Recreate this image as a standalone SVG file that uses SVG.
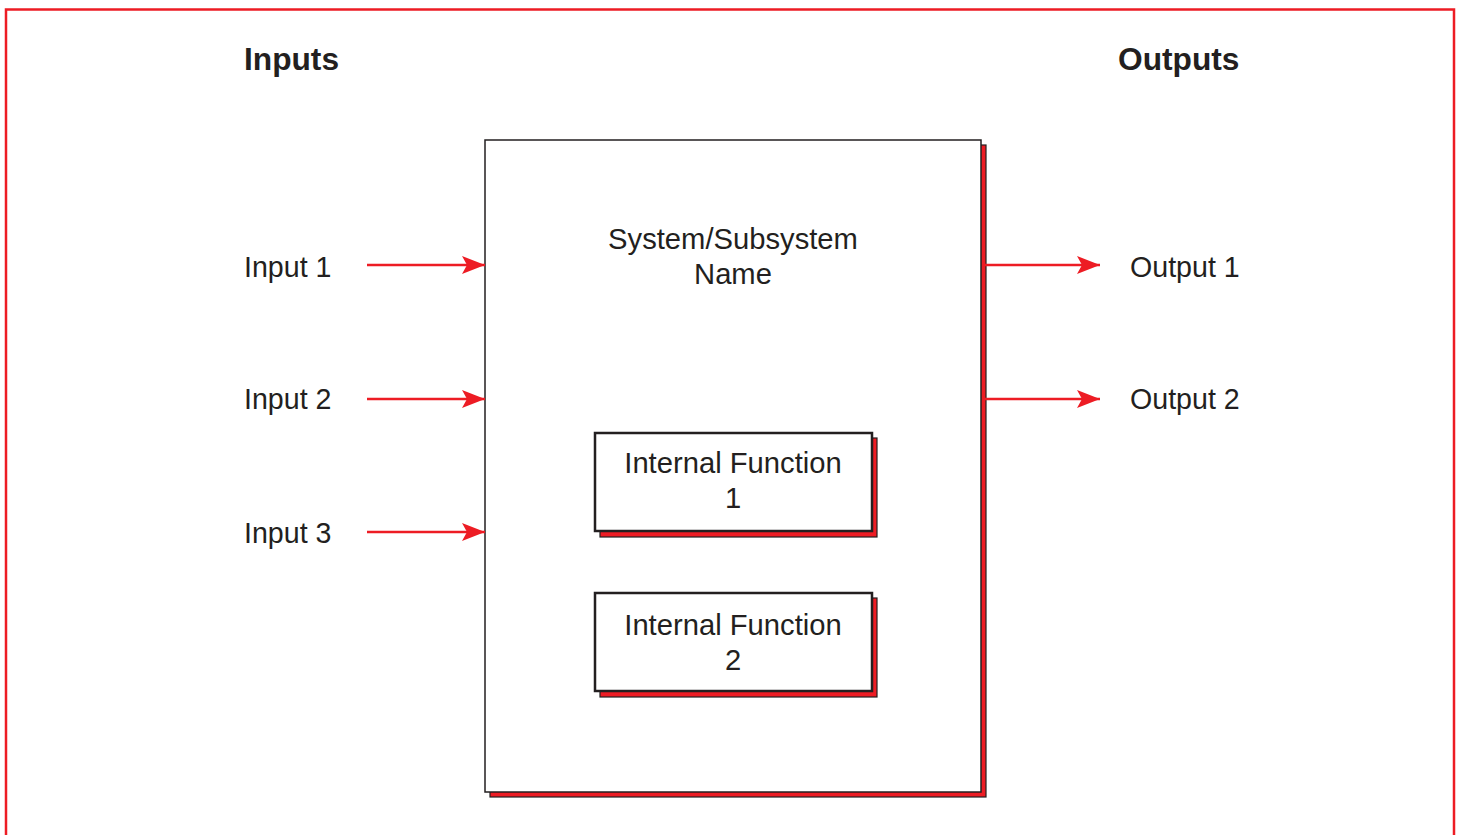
<svg xmlns="http://www.w3.org/2000/svg" width="1460" height="835" viewBox="0 0 1460 835">
<style>
text{font-family:"Liberation Sans",Arial,sans-serif;fill:#231f20;}
.h{font-size:31.7px;font-weight:bold;}
.l{font-size:28.6px;}
.c{font-size:29.2px;text-anchor:middle;}
.shadow{fill:#ed1c24;stroke:#231f20;stroke-width:1.2;}
.main{fill:#fff;stroke:#231f20;stroke-width:1.5;}
.inner{fill:#fff;stroke:#231f20;stroke-width:2.5;}
.conn{stroke:#ed1c24;stroke-width:2.5;fill:none;}
</style>
<defs>
<marker id="arr" markerUnits="userSpaceOnUse" markerWidth="26" markerHeight="20" refX="23" refY="10" orient="auto">
<path d="M0,1 L23,10 L0,19 L5,10 Z" fill="#ed1c24"/>
</marker>
</defs>
<rect x="6" y="9.5" width="1448" height="840" fill="none" stroke="#ed1c24" stroke-width="2.5"/>
<text class="h" x="244" y="70">Inputs</text>
<text class="h" x="1118" y="70">Outputs</text>
<g id="system">
<rect class="shadow" x="490" y="145" width="496" height="652"/>
<rect class="main" x="485" y="140" width="496" height="652"/>
<text class="c" x="733" y="249">System/Subsystem</text>
<text class="c" x="733" y="284">Name</text>
</g>
<g id="if1">
<rect class="shadow" x="600" y="438" width="277" height="99"/>
<rect class="inner" x="595" y="433" width="277" height="98"/>
<text class="c" x="733" y="473">Internal Function</text>
<text class="c" x="733" y="508">1</text>
</g>
<g id="if2">
<rect class="shadow" x="600" y="598" width="277" height="99"/>
<rect class="inner" x="595" y="593" width="277" height="98"/>
<text class="c" x="733" y="635">Internal Function</text>
<text class="c" x="733" y="670">2</text>
</g>
<g id="in1"><text class="l" x="244" y="277">Input 1</text></g>
<g id="in2"><text class="l" x="244" y="409">Input 2</text></g>
<g id="in3"><text class="l" x="244" y="543">Input 3</text></g>
<g id="out1"><text class="l" x="1130" y="277">Output 1</text></g>
<g id="out2"><text class="l" x="1130" y="409">Output 2</text></g>
<g id="connectors">
<line class="conn" x1="367" y1="265" x2="485" y2="265" marker-end="url(#arr)"/>
<line class="conn" x1="367" y1="399" x2="485" y2="399" marker-end="url(#arr)"/>
<line class="conn" x1="367" y1="532" x2="485" y2="532" marker-end="url(#arr)"/>
<line class="conn" x1="984" y1="265" x2="1100" y2="265" marker-end="url(#arr)"/>
<line class="conn" x1="984" y1="399" x2="1100" y2="399" marker-end="url(#arr)"/>
</g>
</svg>
